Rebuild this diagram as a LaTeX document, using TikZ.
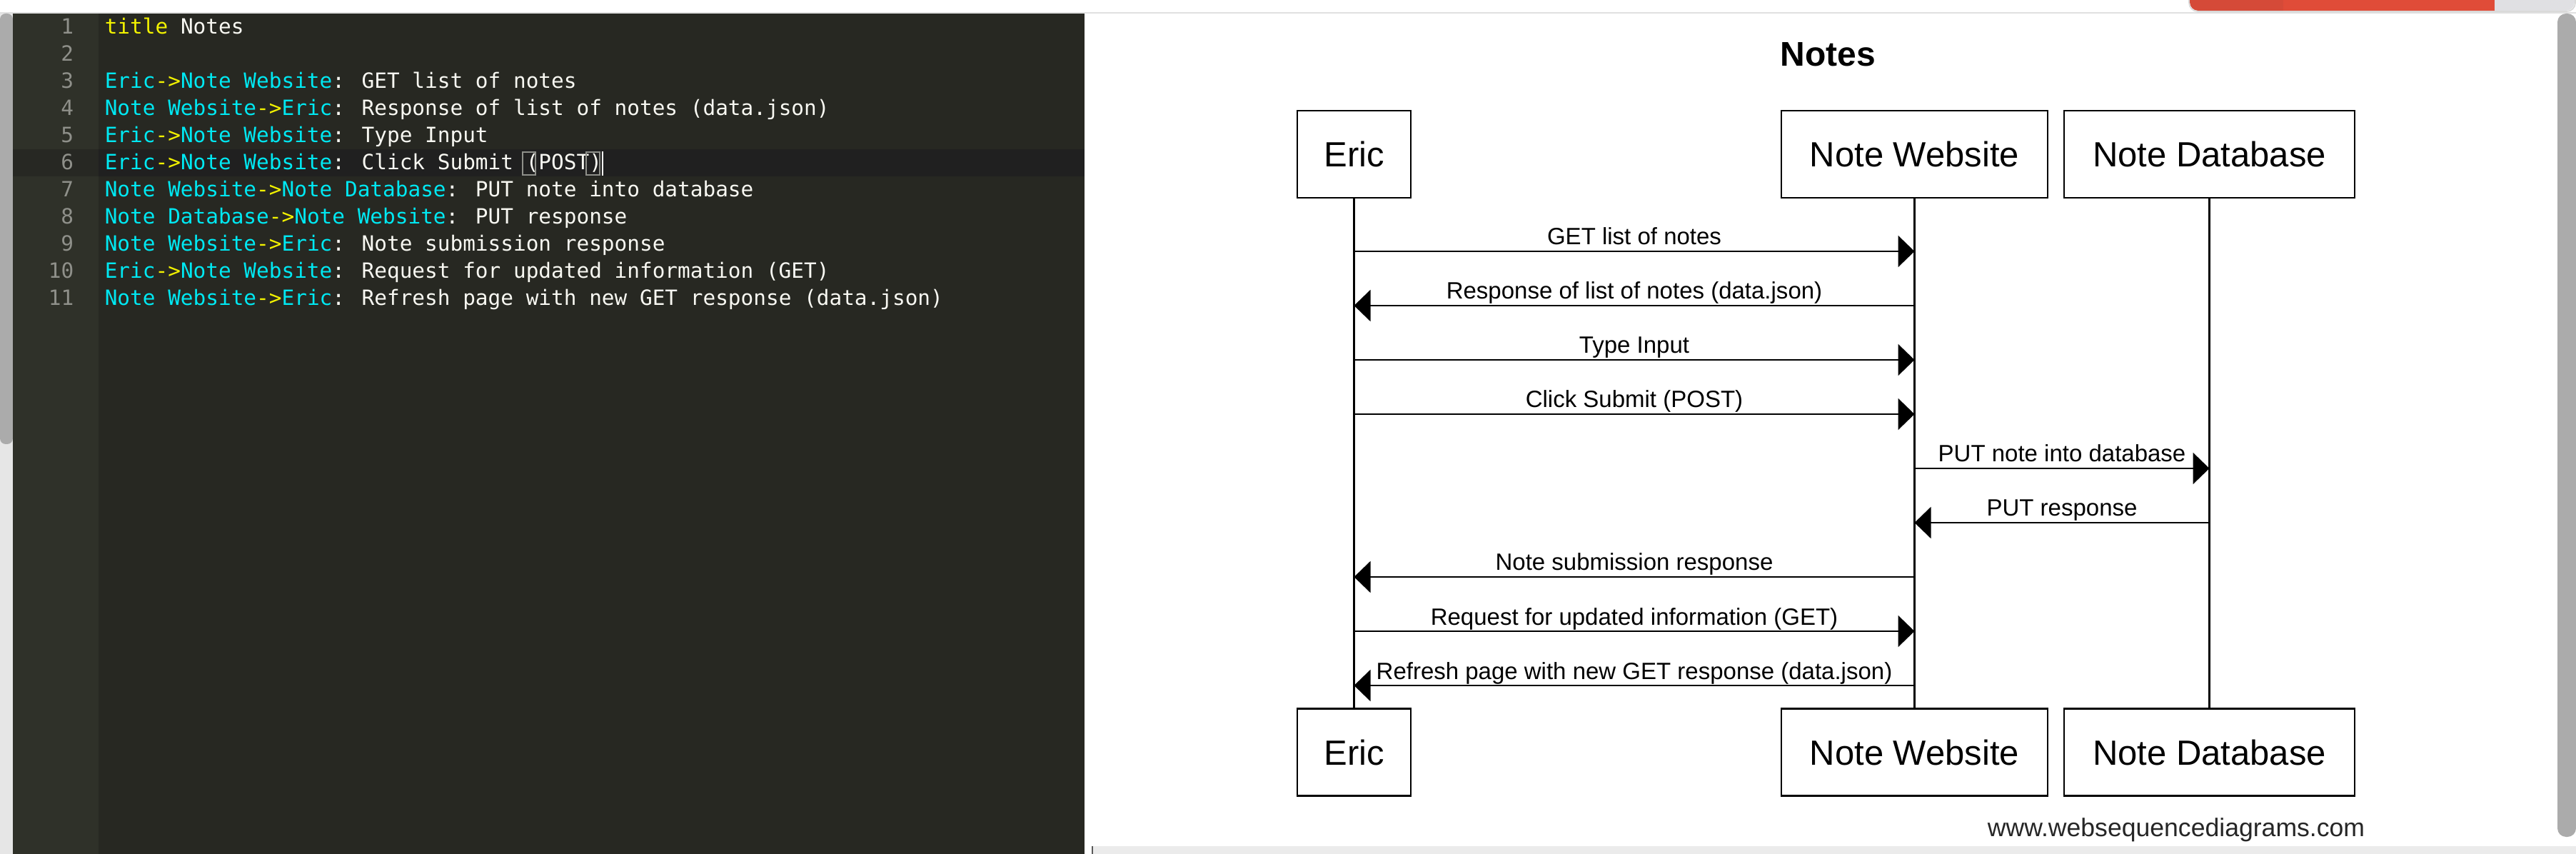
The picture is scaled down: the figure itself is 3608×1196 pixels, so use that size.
\documentclass[tikz,border=0pt]{standalone}
\usepackage{fontspec}
\setmainfont{Liberation Sans}
\newfontfamily\edfont{DejaVu Sans Mono}
\usetikzlibrary{arrows.meta}
\definecolor{edbg}{HTML}{272822}
\definecolor{gutbg}{HTML}{2F3129}
\definecolor{actbg}{HTML}{202020}
\definecolor{actgut}{HTML}{272823}
\definecolor{codew}{HTML}{F8F8F2}
\definecolor{lnumc}{HTML}{8F908A}
\definecolor{kcyan}{HTML}{00E8F2}
\definecolor{kyel}{HTML}{F2F200}
\definecolor{topline}{HTML}{E0E0E0}
\definecolor{track}{HTML}{E6E6E6}
\definecolor{thumb}{HTML}{ABABAB}
\definecolor{tabgrey}{HTML}{E0E0E3}
\definecolor{redA}{HTML}{D54A38}
\definecolor{redB}{HTML}{E04C38}
\definecolor{barbg}{HTML}{EBEBEB}
\newcommand\edp[1]{\textcolor{kcyan}{#1}}
\newcommand\edar{\textcolor{kyel}{->}}
\begin{document}
\begin{tikzpicture}[x=0.25pt,y=-0.25pt,
  edline/.style={anchor=base west, inner sep=0, text=codew, font=\edfont\fontsize{7.35}{8}\selectfont},
  lnum/.style={anchor=base east, inner sep=0, text=lnumc, font=\edfont\fontsize{7.35}{8}\selectfont},
  part/.style={draw=black, line width=0.575pt, fill=white, minimum height=30.5pt, inner sep=0, font=\fontsize{12.25}{14}\selectfont},
  life/.style={line width=0.575pt},
  msg/.style={line width=0.575pt, -{Triangle[length=5.75pt,width=11pt]}},
  lbl/.style={anchor=base, inner sep=0, yshift=2.25pt, font=\fontsize{8.25}{10}\selectfont}]
\useasboundingbox (0,0) rectangle (3608,1196);
\fill[white] (0,0) rectangle (3608,1196);
% top strip line
\fill[topline] (0,17) rectangle (3608,19);
% red tab
\begin{scope}
\clip[rounded corners=3pt] (3067,-30) rectangle (3606,15);
\fill[tabgrey] (3067,-30) rectangle (3606,15);
\fill[redA] (3067,-30) rectangle (3198,15);
\fill[redB] (3198,-30) rectangle (3494,15);
\end{scope}
\draw[line width=0.4pt, draw=white!85!black, rounded corners=3pt] (3066,-30) -- (3066,16) -- (3607,16) -- (3607,-30);
% editor
\fill[track] (0,19) rectangle (18,1196);
\fill[thumb, rounded corners=2pt] (0,19) rectangle (18,622);
\fill[gutbg] (18,19) rectangle (138,1196);
\fill[edbg] (138,19) rectangle (1519,1196);
\fill[actgut] (18,209) rectangle (138,247);
\fill[actbg] (138,209) rectangle (1519,247);
% line numbers
\foreach \i in {1,...,11} {
  \node[lnum] (n\i) at (104,{48+38*(\i-1)}) {\i};
}
% code lines
\node[edline] (l1) at (146,48) {\textcolor{kyel}{title} Notes};
\node[edline] (l3) at (146,124) {\edp{Eric}\edar\edp{Note Website}: GET list of notes};
\node[edline] (l4) at (146,162) {\edp{Note Website}\edar\edp{Eric}: Response of list of notes (data.json)};
\node[edline] (l5) at (146,200) {\edp{Eric}\edar\edp{Note Website}: Type Input};
\node[edline] (l6) at (146,238) {\edp{Eric}\edar\edp{Note Website}: Click Submit (POST)};
\node[edline] (l7) at (146,276) {\edp{Note Website}\edar\edp{Note Database}: PUT note into database};
\node[edline] (l8) at (146,314) {\edp{Note Database}\edar\edp{Note Website}: PUT response};
\node[edline] (l9) at (146,352) {\edp{Note Website}\edar\edp{Eric}: Note submission response};
\node[edline] (l10) at (146,390) {\edp{Eric}\edar\edp{Note Website}: Request for updated information (GET)};
\node[edline] (l11) at (146,428) {\edp{Note Website}\edar\edp{Eric}: Refresh page with new GET response (data.json)};
% bracket match and cursor
\draw[lnumc, line width=0.35pt] (732,213) rectangle (750,245);
\draw[lnumc, line width=0.35pt] (821,213) rectangle (840,245);
\draw[codew, line width=0.5pt] (844,212) -- (844,246);
% right panel bits
\fill[thumb, rounded corners=3pt] (3582,19) rectangle (3608,1172);
\fill[barbg] (1530,1185) rectangle (3608,1196);
\draw[black!65, line width=0.5pt] (1530,1185) -- (1530,1196);
% diagram
\node[anchor=base, inner sep=0, font=\bfseries\fontsize{12}{14}\selectfont] (title) at (2560,93) {Notes};
\node[part, minimum width=39.75pt] (eT) at (1896.5,216) {Eric};
\node[part, minimum width=93.25pt] (wT) at (2681.5,216) {Note Website};
\node[part, minimum width=101.75pt] (dT) at (3094.5,216) {Note Database};
\node[part, minimum width=39.75pt] (eB) at (1896.5,1053.5) {Eric};
\node[part, minimum width=93.25pt] (wB) at (2681.5,1053.5) {Note Website};
\node[part, minimum width=101.75pt] (dB) at (3094.5,1053.5) {Note Database};
\draw[life] (eT.south) -- (eB.north);
\draw[life] (wT.south) -- (wB.north);
\draw[life] (dT.south) -- (dB.north);
\foreach \k in {1,...,9} { \coordinate (y\k) at (0,{352+76*(\k-1)}); }
\draw[msg] (eT |- y1) -- node[lbl] {GET list of notes} (wT |- y1);
\draw[msg] (wT |- y2) -- node[lbl] {Response of list of notes (data.json)} (eT |- y2);
\draw[msg] (eT |- y3) -- node[lbl] {Type Input} (wT |- y3);
\draw[msg] (eT |- y4) -- node[lbl] {Click Submit (POST)} (wT |- y4);
\draw[msg] (wT |- y5) -- node[lbl] {PUT note into database} (dT |- y5);
\draw[msg] (dT |- y6) -- node[lbl] {PUT response} (wT |- y6);
\draw[msg] (wT |- y7) -- node[lbl] {Note submission response} (eT |- y7);
\draw[msg] (eT |- y8) -- node[lbl] {Request for updated information (GET)} (wT |- y8);
\draw[msg] (wT |- y9) -- node[lbl] {Refresh page with new GET response (data.json)} (eT |- y9);
\node[anchor=base, inner sep=0, text=black!85, font=\fontsize{8.9}{10}\selectfont] (wm) at (3048,1171) {www.websequencediagrams.com};
\end{tikzpicture}
\end{document}
